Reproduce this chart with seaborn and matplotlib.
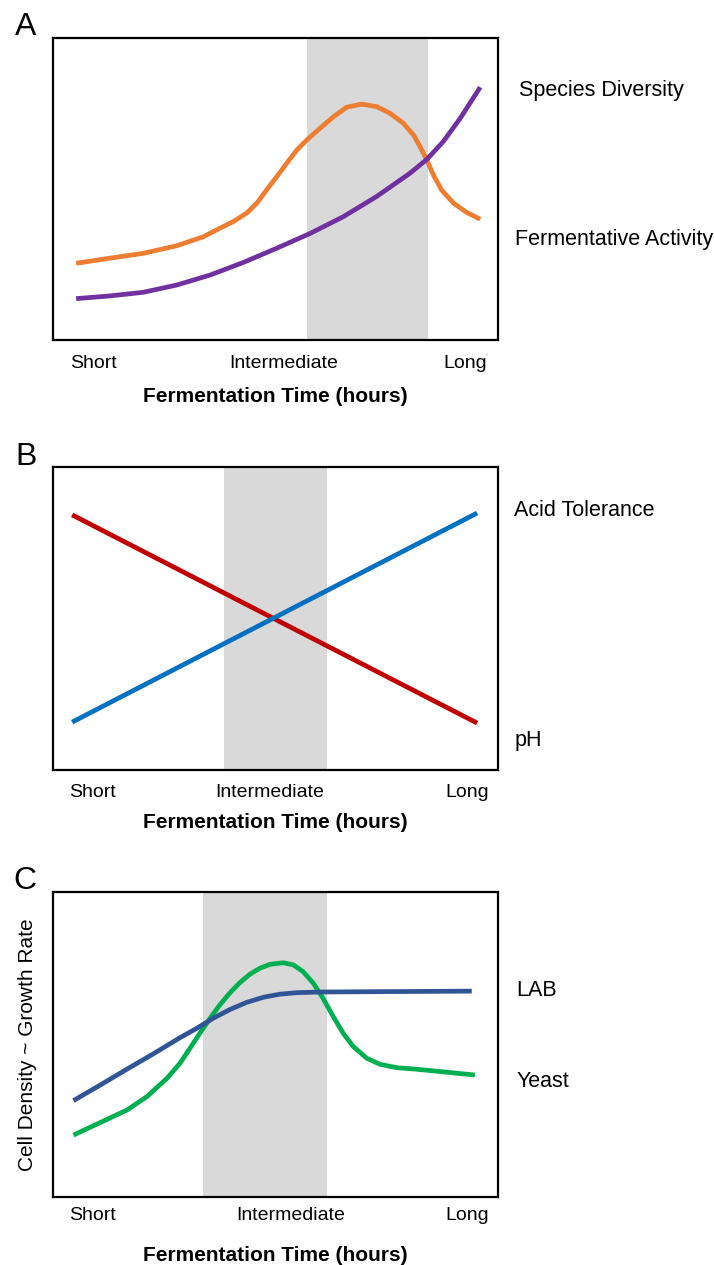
import pandas as pd
import seaborn as sns
import matplotlib.pyplot as plt

# x and y are relative units (0-100) across each panel
tick_labels = ['Short', 'Intermediate', 'Long']

# Panel A
a_ticks = [9.2, 51.9, 92.6]
a_band = [57.1, 84.3]
fermentative_x = [5.2, 12.8, 20.3, 27.8, 33.8, 37.5, 40.5, 43.5, 45.8, 48.0, 50.3, 52.5, 54.8,
                  57.0, 60.0, 63.0, 66.0, 69.4, 72.7, 75.7, 78.7, 81.0, 82.5, 84.0, 85.5,
                  87.3, 90.0, 93.0, 96.0]
fermentative_y = [25.4, 27.1, 28.7, 31.2, 34.2, 37.0, 39.2, 42.0, 45.3, 49.7, 54.1, 58.5, 62.9,
                  66.2, 70.1, 73.9, 77.1, 78.1, 77.3, 75.1, 71.8, 67.9, 64.0, 59.6, 54.6,
                  49.7, 45.3, 42.2, 40.0]
diversity_x = [5.2, 12.8, 20.3, 27.8, 35.3, 42.8, 50.3, 57.8, 65.2, 72.7, 80.2, 84.0, 87.7, 91.5, 96.0]
diversity_y = [13.7, 14.6, 15.8, 18.2, 21.5, 25.7, 30.4, 35.3, 40.8, 47.5, 55.2, 59.8, 65.7, 73.4, 83.7]

# Panel B
b_ticks = [8.8, 48.8, 93.0]
b_band = [38.4, 61.6]
ph_x = [4.3, 95.3]
ph_y = [84.2, 15.5]
acid_x = [4.3, 95.3]
acid_y = [15.8, 84.8]

# Panel C
c_ticks = [8.8, 53.5, 93.0]
c_band = [33.6, 61.5]
lab_x = [4.6, 10.6, 16.6, 22.5, 28.5, 32.3, 36.0, 39.8, 43.5, 47.3, 51.0, 54.8, 60.0, 69.7,
         82.5, 94.1]
lab_y = [31.6, 36.7, 41.9, 46.9, 52.2, 55.3, 58.6, 61.5, 63.8, 65.5, 66.5, 67.0, 67.2, 67.3,
         67.4, 67.5]
yeast_x = [4.6, 10.6, 16.6, 21.1, 25.6, 28.5, 30.8, 33.0, 35.3, 37.5, 39.8, 42.0, 44.3, 46.5,
           48.8, 51.8, 54.0, 56.2, 58.5, 60.7, 63.0, 65.2, 67.5, 70.5, 73.5, 77.2, 81.7,
           89.2, 94.8]
yeast_y = [20.3, 24.4, 28.5, 32.9, 38.9, 43.8, 48.8, 53.7, 58.6, 63.0, 67.0, 70.3, 73.1, 75.0,
           76.3, 76.8, 76.1, 73.9, 70.1, 65.1, 59.1, 53.7, 49.3, 45.5, 43.5, 42.4, 41.9,
           40.8, 40.0]

ORANGE = '#ED7D31'
PURPLE = '#7030A0'
RED = '#C00000'
BLUE = '#0070C0'
NAVY = '#2F5597'
GREEN = '#00B050'
BAND = '#D9D9D9'

W, H = 714, 1265


def make_axes(fig, left, top, right, bottom):
    return fig.add_axes([left / W, (H - bottom) / H, (right - left) / W, (bottom - top) / H])


def style_panel(ax, ticks, band, tick_pad, label_y):
    ax.axvspan(band[0], band[1], color=BAND, lw=0, zorder=0)
    ax.set_xlim(0, 100)
    ax.set_ylim(0, 100)
    ax.set_xticks(ticks)
    ax.set_xticklabels(tick_labels, fontsize=14, color='black')
    ax.set_yticks([])
    ax.tick_params(axis='x', length=0, pad=tick_pad)
    for s in ax.spines.values():
        s.set_visible(True)
        s.set_color('black')
        s.set_linewidth(1.6)
    ax.set_xlabel('Fermentation Time (hours)', fontsize=15, fontweight='bold', va='top',
                  color='black')
    ax.xaxis.set_label_coords(0.5, label_y)
    ax.set_ylabel('')


def draw(ax, x, y, color):
    df = pd.DataFrame({'x': x, 'y': y})
    sns.lineplot(data=df, x='x', y='y', ax=ax, color=color, lw=3.4, estimator=None,
                 sort=False, solid_capstyle='butt', solid_joinstyle='round')


def main():
    sns.set_theme(style='white')
    plt.rcParams['font.family'] = ['Liberation Sans', 'DejaVu Sans']
    plt.rcParams['text.color'] = 'black'
    plt.rcParams['axes.labelcolor'] = 'black'

    fig = plt.figure(figsize=(W / 100, H / 100), dpi=100)

    # A
    ax = make_axes(fig, 53, 38, 498, 340)
    draw(ax, fermentative_x, fermentative_y, ORANGE)
    draw(ax, diversity_x, diversity_y, PURPLE)
    style_panel(ax, a_ticks, a_band, 10.8, -0.156)

    # B
    ax = make_axes(fig, 53, 467, 498, 770)
    draw(ax, ph_x, ph_y, RED)
    draw(ax, acid_x, acid_y, BLUE)
    style_panel(ax, b_ticks, b_band, 10, -0.143)

    # C
    ax = make_axes(fig, 53, 892, 498, 1197)
    draw(ax, yeast_x, yeast_y, GREEN)
    draw(ax, lab_x, lab_y, NAVY)
    style_panel(ax, c_ticks, c_band, 7, -0.161)
    ax.set_ylabel('Cell Density ~ Growth Rate', fontsize=15, color='black')
    ax.yaxis.set_label_coords(-0.037, 0.5)

    # panel letters and curve labels (pixel positions)
    def ftext(x, y, s, **kw):
        fig.text(x / W, (H - y) / H, s, ha='left', va='baseline', color='black', **kw)

    ftext(15, 35, 'A', fontsize=23)
    ftext(15, 465, 'B', fontsize=23)
    ftext(13, 889, 'C', fontsize=23)

    ftext(519, 96, 'Species Diversity', fontsize=15.5)
    ftext(515, 245, 'Fermentative Activity', fontsize=15.5)
    ftext(514, 516, 'Acid Tolerance', fontsize=15.5)
    ftext(515, 746, 'pH', fontsize=15.5)
    ftext(516, 996, 'LAB', fontsize=15.5)
    ftext(517, 1087, 'Yeast', fontsize=15.5)

    fig.savefig('out.png', dpi=100)
    plt.close('all')


if __name__ == '__main__':
    main()
